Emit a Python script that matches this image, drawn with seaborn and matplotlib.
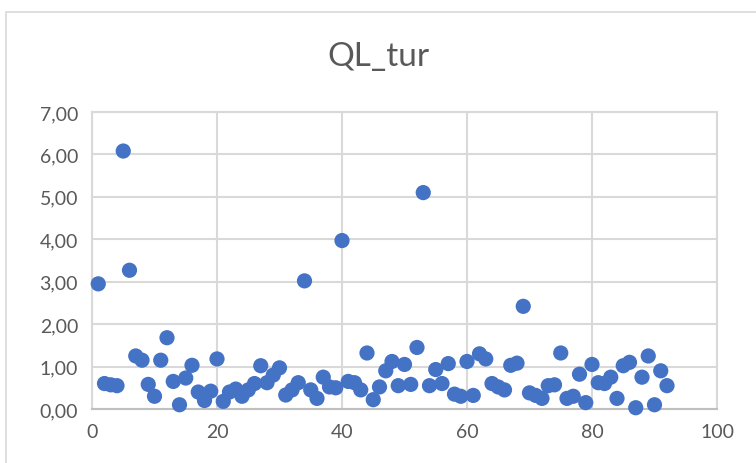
import numpy as np
import pandas as pd
import matplotlib
matplotlib.use('Agg')
import matplotlib.pyplot as plt
import matplotlib.ticker as mticker
from matplotlib.patches import Rectangle
import seaborn as sns

# ─── Data ─────────────────────────────────────────────────────────────────────
obs = list(range(1, 93))
ql_tur = [2.95, 0.60, 0.57, 0.55, 6.08, 3.27, 1.25, 1.15, 0.58, 0.30,
          1.15, 1.68, 0.65, 0.10, 0.73, 1.03, 0.40, 0.20, 0.42, 1.18,
          0.18, 0.40, 0.47, 0.30, 0.45, 0.60, 1.02, 0.62, 0.80, 0.97,
          0.33, 0.45, 0.62, 3.02, 0.45, 0.25, 0.75, 0.52, 0.50, 3.97,
          0.65, 0.62, 0.45, 1.32, 0.22, 0.52, 0.90, 1.12, 0.55, 1.05,
          0.58, 1.45, 5.10, 0.55, 0.93, 0.60, 1.07, 0.35, 0.30, 1.12,
          0.32, 1.30, 1.18, 0.60, 0.52, 0.45, 1.03, 1.08, 2.42, 0.38,
          0.32, 0.25, 0.55, 0.57, 1.32, 0.25, 0.30, 0.82, 0.15, 1.05,
          0.62, 0.60, 0.75, 0.25, 1.02, 1.10, 0.03, 0.75, 1.25, 0.10,
          0.90, 0.55]
x_ticks = [0, 20, 40, 60, 80, 100]
y_ticks = [0, 1, 2, 3, 4, 5, 6, 7]

df = pd.DataFrame({'obs': obs, 'QL_tur': ql_tur})

# ─── Style ────────────────────────────────────────────────────────────────────
sns.set_style('white')
plt.rcParams['font.family'] = ['Lato', 'DejaVu Sans']
TEXT = '#595959'
GRID = '#D9D9D9'

fig = plt.figure(figsize=(7.56, 4.64), dpi=100)
fig.patches.append(Rectangle((6 / 756, -0.05), 1.0, 1 - 13 / 464 + 0.05,
                             transform=fig.transFigure, fill=False,
                             edgecolor='#D9D9D9', linewidth=1.2))
ax = fig.add_axes([92 / 756, 1 - 410 / 464, 625 / 756, 297 / 464])

sns.scatterplot(data=df, x='obs', y='QL_tur', ax=ax, s=120,
                color='#4472C4', edgecolor='none', clip_on=False, zorder=3)

ax.set_xlim(0, 100)
ax.set_ylim(0, 7)
ax.set_xticks(x_ticks)
ax.set_yticks(y_ticks)
ax.yaxis.set_major_formatter(mticker.FuncFormatter(lambda v, p: f'{v:.2f}'.replace('.', ',')))
ax.grid(True, color=GRID, linewidth=1.5)
ax.set_axisbelow(True)
for side, sp in ax.spines.items():
    sp.set_color(GRID)
    sp.set_linewidth(1.5)
ax.spines['bottom'].set_color('#BFBFBF')
ax.tick_params(length=0, labelsize=14, labelcolor=TEXT, pad=10)
ax.set_xlabel('')
ax.set_ylabel('')

fig.text(0.5, 1 - 57 / 464, 'QL_tur', ha='center', va='center',
         fontsize=24, color=TEXT)

fig.savefig('out.png', dpi=100)
